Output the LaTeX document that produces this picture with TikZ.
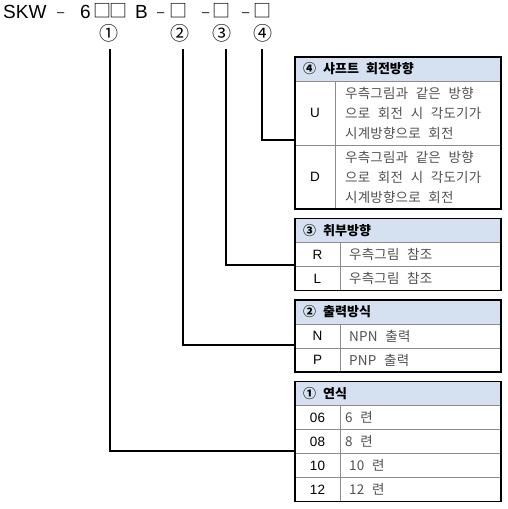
\documentclass[tikz,border=0pt]{standalone}
\usepackage{fontspec}
\setmainfont{Liberation Sans}
\newfontfamily\kr[WordSpace=2.4,LetterSpace=1.5]{Noto Sans CJK KR}
\newfontfamily\krplain{Noto Sans CJK KR}
\newcommand\hsp{\hspace{7pt}}
\definecolor{hdrblue}{HTML}{D5E1F0}
\definecolor{descgray}{HTML}{505050}
\definecolor{linegray}{HTML}{8C8C8C}
\begin{document}
\begin{tikzpicture}[x=1pt,y=-1pt,
  ttl/.style={anchor=base west,inner sep=0,font=\fontsize{19}{19}\selectfont},
  dsh/.style={anchor=base west,inner sep=0,font=\fontsize{13}{13}\selectfont},
  sq/.style={anchor=center,inner sep=0,font=\krplain\fontsize{18}{18}\selectfont},
  circ/.style={anchor=center,inner sep=0,font=\krplain\fontsize{19}{19}\selectfont},
  hdrtext/.style={anchor=west,inner sep=0,font=\krplain\bfseries\fontsize{13}{13}\selectfont},
  keytext/.style={anchor=center,inner sep=0,font=\fontsize{13.5}{13.5}\selectfont},
  desc/.style={anchor=west,inner sep=0,text=descgray,align=left,font=\kr\fontsize{13.5}{20}\selectfont},
  outer/.style={draw=black,line width=1.8pt},
  inner/.style={draw=linegray,line width=0.9pt},
  conn/.style={draw=black,line width=1.8pt}]
\useasboundingbox (0,0) rectangle (508,509);
% title
\node[ttl] (skw) at (3,18) {SKW};
\node[dsh] (d1) at (57,16) {–};
\node[ttl] (six) at (80,18) {6};
\node[sq] (b1) at (102.5,11) {□};
\node[sq] (b2) at (118.5,11) {□};
\node[ttl] (bb) at (135,18) {B};
\node[dsh] (d2) at (157,16) {–};
\node[sq] (b3) at (178,11) {□};
\node[dsh] (d3) at (202,16) {–};
\node[sq] (b4) at (221.5,11) {□};
\node[dsh] (d4) at (242,16) {–};
\node[sq] (b5) at (262.5,11) {□};
% circled numbers
\node[circ] (n1) at (108.5,33) {①};
\node[circ] (n2) at (180,33) {②};
\node[circ] (n3) at (221.5,33) {③};
\node[circ] (n4) at (263,33) {④};
% table 4
\fill[hdrblue] (295,57) rectangle (501,81);
\draw[inner] (295,81) -- (501,81) (295,145) -- (501,145) (335,81) -- (335,209);
\draw[outer] (295,57) rectangle (501,209);
\node[hdrtext] (h4) at (303,69) {④\hsp 샤프트\hsp 회전방향};
\node[keytext] (kU) at (315,113) {U};
\node[desc] (dU) at (345,113) {우측그림과 같은 방향\\으로 회전 시 각도기가\\시계방향으로 회전};
\node[keytext] (kD) at (315,177) {D};
\node[desc] (dD) at (345,177) {우측그림과 같은 방향\\으로 회전 시 각도기가\\시계방향으로 회전};
% table 3
\fill[hdrblue] (295,218.5) rectangle (501,242.5);
\draw[inner] (295,242.5) -- (501,242.5) (295,266.5) -- (501,266.5) (340,242.5) -- (340,290.5);
\draw[outer] (295,218.5) rectangle (501,290.5);
\node[hdrtext] (h3) at (303,230.5) {③\hsp 취부방향};
\node[keytext] (kR) at (317.5,254.5) {R};
\node[desc] (dR) at (349,254.5) {우측그림 참조};
\node[keytext] (kL) at (317.5,278.5) {L};
\node[desc] (dL) at (349,278.5) {우측그림 참조};
% table 2
\fill[hdrblue] (295,300) rectangle (501,324);
\draw[inner] (295,324) -- (501,324) (295,348) -- (501,348) (340,324) -- (340,372);
\draw[outer] (295,300) rectangle (501,372);
\node[hdrtext] (h2) at (303,312) {②\hsp 출력방식};
\node[keytext] (kN) at (317.5,336) {N};
\node[desc] (dN) at (349,336) {NPN 출력};
\node[keytext] (kP) at (317.5,360) {P};
\node[desc] (dP) at (349,360) {PNP 출력};
% table 1
\fill[hdrblue] (295,381.5) rectangle (501,405.5);
\draw[inner] (295,405.5) -- (501,405.5) (295,429.5) -- (501,429.5) (295,453.5) -- (501,453.5) (295,477.5) -- (501,477.5) (340,405.5) -- (340,501.5);
\draw[outer] (295,381.5) rectangle (501,501.5);
\node[hdrtext] (h1) at (303,393.5) {①\hsp 연식};
\node[keytext] (k06) at (317.5,417.5) {06};
\node[desc] (d06) at (345,417.5) {6 련};
\node[keytext] (k08) at (317.5,441.5) {08};
\node[desc] (d08) at (345,441.5) {8 련};
\node[keytext] (k10) at (317.5,465.5) {10};
\node[desc] (d10) at (349,465.5) {10 련};
\node[keytext] (k12) at (317.5,489.5) {12};
\node[desc] (d12) at (349,489.5) {12 련};
% connectors
\coordinate (s1) at (110,49);
\coordinate (s2) at (183,49);
\coordinate (s3) at (226,49);
\coordinate (s4) at (262,49);
\coordinate (e1) at (295,451);
\coordinate (e2) at (295,345);
\coordinate (e3) at (295,265);
\coordinate (e4) at (295,140);
\draw[conn] (s1) |- (e1);
\draw[conn] (s2) |- (e2);
\draw[conn] (s3) |- (e3);
\draw[conn] (s4) |- (e4);
\end{tikzpicture}
\end{document}
